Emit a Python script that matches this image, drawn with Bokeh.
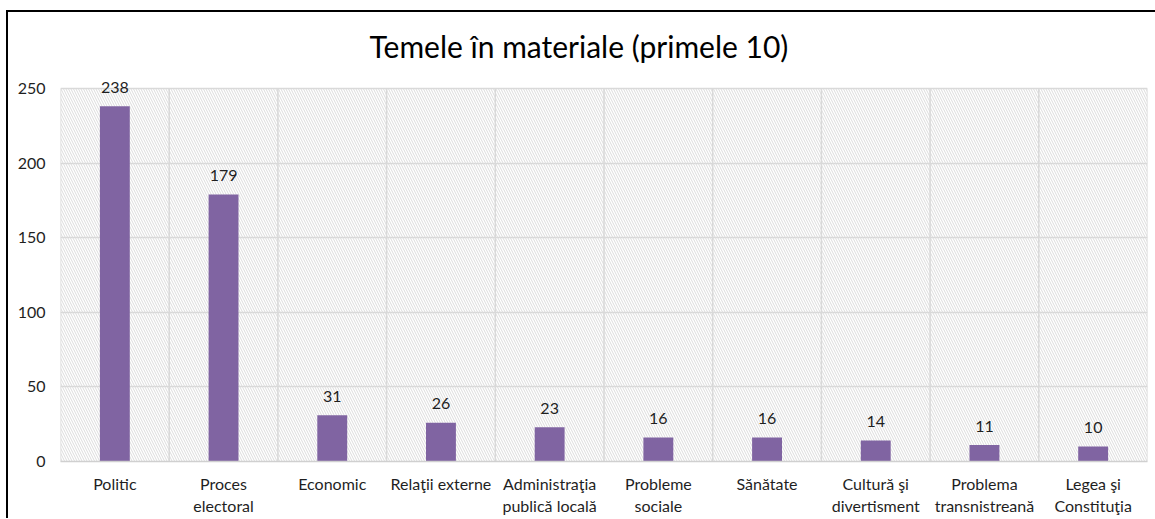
from bokeh.plotting import figure
from bokeh.models import FactorRange, Range1d, BoxAnnotation, FixedTicker, ColumnDataSource
from bokeh.core.properties import value
from bokeh.embed import file_html
from bokeh.resources import INLINE

categories = ["Politic", "Proces electoral", "Economic", "Relaţii externe",
              "Administraţia publică locală", "Probleme sociale", "Sănătate",
              "Cultură şi divertisment", "Problema transnistreană", "Legea şi Constituţia"]
axis_labels = ["Politic", "Proces\nelectoral", "Economic", "Relaţii externe",
               "Administraţia\npublică locală", "Probleme\nsociale", "Sănătate",
               "Cultură şi\ndivertisment", "Problema\ntransnistreană", "Legea şi\nConstituţia"]
counts = [238, 179, 31, 26, 23, 16, 16, 14, 11, 10]
y_ticks = [0, 50, 100, 150, 200, 250]
y_max = 250
title_text = "Temele în materiale (primele 10)"

FONT = "Lato"
TXT = "#1f1f1f"
FS = "16px"
HEADROOM = 8  # extra value units above the plot area so the top label is not clipped
PX_PER_UNIT = 373 / y_max

p = figure(
    x_range=FactorRange(*axis_labels, range_padding=0),
    y_range=Range1d(0, y_max + HEADROOM),
    frame_width=1087, frame_height=round(373 + HEADROOM * PX_PER_UNIT),
    min_border_left=52, min_border_top=64, min_border_right=8, min_border_bottom=56,
    output_backend="svg", toolbar_location=None, title=title_text,
)
p.styles = {"margin-left": "6px", "margin-top": "10px",
            "border-left": "2px solid black", "border-top": "2px solid black"}

p.title.align = "left"
p.title.offset = 309
p.title.text_font = FONT
p.title.text_font_size = "30px"
p.title.text_font_style = "normal"
p.title.text_color = "#000000"
p.title.standoff = 26

p.background_fill_color = "white"
p.border_fill_color = "white"
p.outline_line_color = None

hatch = BoxAnnotation(top=y_max, bottom=0, fill_color="white", fill_alpha=1, line_color=None,
                      hatch_pattern="\\", hatch_color="#dcdcdc", hatch_weight=1,
                      hatch_scale=5, level="image")
p.add_layout(hatch)

p.xgrid.visible = False
p.ygrid.ticker = FixedTicker(ticks=y_ticks)
p.ygrid.grid_line_color = "#d9d9d9"
p.ygrid.grid_line_width = 1.5
p.ygrid.level = "underlay"

# vertical separators between categories (synthetic categorical coordinates)
bounds = list(range(len(categories) + 1))
p.segment(x0=bounds, x1=bounds, y0=[0] * len(bounds), y1=[y_max] * len(bounds),
          line_color="#d9d9d9", line_width=1.5, level="underlay")

src = ColumnDataSource(dict(cat=axis_labels, n=counts, lab=[str(v) for v in counts]))
p.vbar(x="cat", top="n", width=0.275, source=src, color="#8064A2", line_color=None)
p.text(x="cat", y="n", text="lab", source=src, text_align="center",
       text_baseline="alphabetic", y_offset=-19, text_font=value(FONT),
       text_font_size=FS, text_color=TXT)

p.yaxis.ticker = FixedTicker(ticks=y_ticks)
p.yaxis.axis_line_color = None
p.yaxis.major_tick_line_color = None
p.yaxis.minor_tick_line_color = None
p.yaxis.major_label_standoff = 9
p.yaxis.major_label_text_font = FONT
p.yaxis.major_label_text_font_size = FS
p.yaxis.major_label_text_color = TXT

p.xaxis.axis_line_color = "#d0d0d0"
p.xaxis.axis_line_width = 1.5
p.xaxis.major_tick_line_color = None
p.xaxis.minor_tick_line_color = None
p.xaxis.major_label_standoff = 6
p.xaxis.major_label_text_font = FONT
p.xaxis.major_label_text_font_size = FS
p.xaxis.major_label_text_color = TXT
p.xaxis.major_label_orientation = "horizontal"

open("out.html", "w").write(file_html(p, INLINE))
